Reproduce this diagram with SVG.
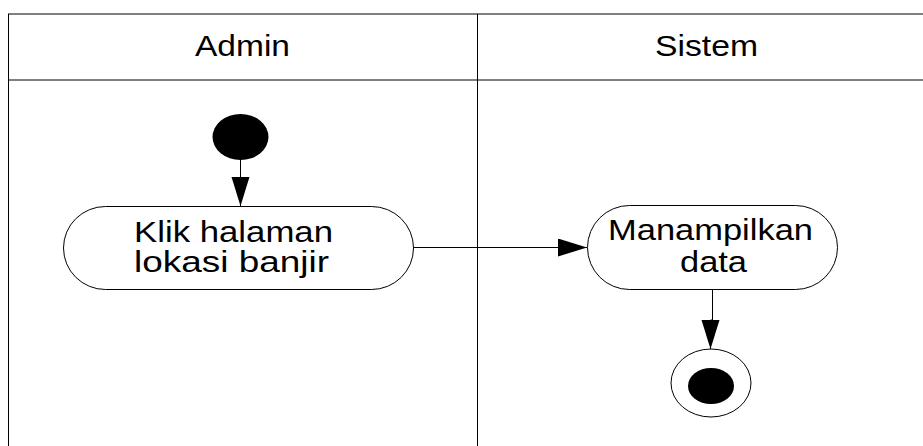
<svg xmlns="http://www.w3.org/2000/svg" width="923" height="446" viewBox="0 0 923 446">
<style>
.lane{stroke:#000;stroke-width:1;fill:none}
.act{fill:#fff;stroke:#000;stroke-width:1}
.t{font-family:"Liberation Sans",Arial,sans-serif;fill:#000;text-anchor:start}
.c{stroke:#000;stroke-width:1;fill:none}
</style>
<defs>
<marker id="arr" markerWidth="30" markerHeight="20" refX="29" refY="9" orient="auto" markerUnits="userSpaceOnUse">
<path d="M0,0 L29,9 L0,18 Z" fill="#000"/>
</marker>
</defs>
<rect width="923" height="446" fill="#fff"/>
<g id="lanes">
<line class="lane" x1="8" y1="14" x2="923" y2="14"/>
<line class="lane" x1="8" y1="80" x2="923" y2="80"/>
<line class="lane" x1="8.5" y1="14" x2="8.5" y2="446"/>
<line class="lane" x1="477.5" y1="14" x2="477.5" y2="446"/>
<text class="t" x="195" y="56" font-size="29" textLength="95" lengthAdjust="spacingAndGlyphs">Admin</text>
<text class="t" x="655" y="56" font-size="29" textLength="103" lengthAdjust="spacingAndGlyphs">Sistem</text>
</g>
<g id="connectors">
<line class="c" x1="240.5" y1="160" x2="240.5" y2="206" marker-end="url(#arr)"/>
<line class="c" x1="413" y1="247.5" x2="587" y2="247.5" marker-end="url(#arr)"/>
<polyline class="c" points="712.5,290 712.5,320 710.5,320 710.5,349" marker-end="url(#arr)"/>
</g>
<g id="start">
<ellipse cx="240.5" cy="137" rx="28" ry="23" fill="#000"/>
</g>
<g id="klik">
<rect class="act" x="63.5" y="206.5" width="350" height="83" rx="42" ry="42"/>
<text class="t" x="134" y="242" font-size="29" textLength="199" lengthAdjust="spacingAndGlyphs">Klik halaman</text>
<text class="t" x="134" y="272" font-size="29" textLength="195" lengthAdjust="spacingAndGlyphs">lokasi banjir</text>
</g>
<g id="tampil">
<rect class="act" x="587.5" y="205.5" width="250" height="84" rx="42" ry="42"/>
<text class="t" x="608" y="240" font-size="29" textLength="205" lengthAdjust="spacingAndGlyphs">Manampilkan</text>
<text class="t" x="680" y="272" font-size="29" textLength="67" lengthAdjust="spacingAndGlyphs">data</text>
</g>
<g id="end">
<ellipse cx="711" cy="383" rx="40" ry="34" fill="#fff" stroke="#000" stroke-width="1"/>
<ellipse cx="711" cy="386" rx="23" ry="18" fill="#000"/>
</g>
</svg>
